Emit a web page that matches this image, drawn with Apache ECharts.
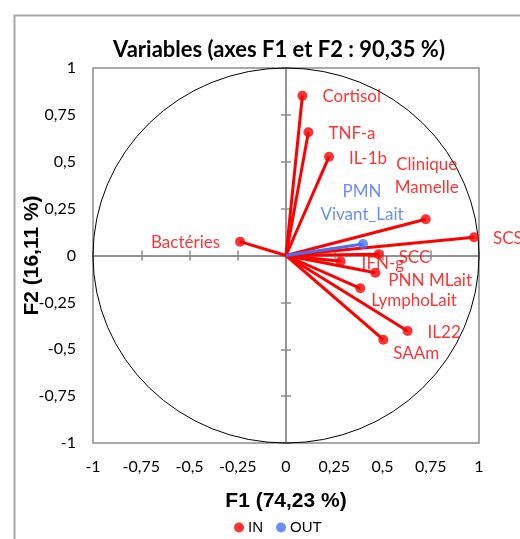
<!DOCTYPE html>
<html><head><meta charset="utf-8">
<script src="https://cdn.jsdelivr.net/npm/echarts@6/dist/echarts.min.js"></script>
<style>html,body{margin:0;padding:0;background:#fff}#c{width:520px;height:539px}</style>
</head><body><div id="c"></div>
<script>
// ---- data ----
const namesIn = ['Cortisol', 'TNF-a', 'IL-1b', 'Clinique\nMamelle', 'SCS', 'SCC', 'IFN-g', 'PNN MLait', 'LymphoLait', 'IL22', 'SAAm', 'Bactéries'];
const f1In = [0.085, 0.116, 0.223, 0.724, 0.974, 0.480, 0.283, 0.463, 0.385, 0.630, 0.504, -0.238];
const f2In = [0.852, 0.657, 0.527, 0.193, 0.097, 0.007, -0.031, -0.092, -0.175, -0.403, -0.449, 0.074];
const namesOut = ['PMN\nVivant_Lait'];
const f1Out = [0.399];
const f2Out = [0.061];
const tickValues = [-1, -0.75, -0.5, -0.25, 0, 0.25, 0.5, 0.75, 1];
const circleRadius = [1];
const chartTitle = 'Variables (axes F1 et F2 : 90,35 %)';
const xTitle = 'F1 (74,23 %)';
const yTitle = 'F2 (16,11 %)';
const seriesNames = ['IN', 'OUT'];

// ---- label placement (style, not data) ----
const labelPlace = {
  'Cortisol': { position: 'right', offset: [0, 1] },
  'TNF-a': { position: 'right', offset: [0, 1] },
  'IL-1b': { position: 'right', offset: [0, 2] },
  'Clinique\nMamelle': { position: 'top', offset: [1, 0] },
  'SCS': { position: 'right', offset: [-1, 1] },
  'SCC': { position: 'right', offset: [0, 3] },
  'IFN-g': { position: 'right', offset: [1, 2] },
  'PNN MLait': { position: 'right', offset: [-7, 8] },
  'LymphoLait': { position: 'right', offset: [-9, 12] },
  'IL22': { position: 'right', offset: [0, 1] },
  'SAAm': { position: 'right', offset: [-10, 14] },
  'Bactéries': { position: 'left', offset: [0, 1] },
  'PMN\nVivant_Lait': { position: 'top', offset: [-1, 0] }
};

const RED = '#FF0000', BLUE = '#4472F5', GRAY = '#8C8C8C';
const FONT = 'Lato';
const tickMin = tickValues[0], tickMax = tickValues[tickValues.length - 1];
const tickStep = tickValues[1] - tickValues[0];
const fmt = v => String(v).replace('.', ',');

function pts(names, xs, ys) {
  return names.map((n, i) => {
    const lp = labelPlace[n] || { position: 'right', offset: [0, 0] };
    const lab = { position: lp.position, offset: lp.offset };
    if (lp.position === 'top') lab.align = 'center';
    return { name: n, value: [xs[i], ys[i]], label: lab };
  });
}
function vecSeries(name, xs, ys, color) {
  return {
    type: 'custom', name: name, xAxisIndex: 0, yAxisIndex: 0, silent: true, z: 2,
    data: xs.map((x, i) => [x, ys[i]]),
    renderItem: function (params, api) {
      const o = api.coord([0, 0]);
      const p = api.coord([api.value(0), api.value(1)]);
      return { type: 'line', shape: { x1: o[0], y1: o[1], x2: p[0], y2: p[1] },
        style: { stroke: color, lineWidth: 3 } };
    }
  };
}
const baseAxis = { type: 'value', min: tickMin, max: tickMax, interval: tickStep, splitLine: { show: false } };

const chart = echarts.init(document.getElementById('c'));
chart.setOption({
  animation: false,
  backgroundColor: '#fff',
  graphic: [{ type: 'rect', left: 12, top: 13, shape: { width: 520, height: 540 },
    style: { fill: 'none', stroke: '#A6A6A6', lineWidth: 2 }, z: -1 }],
  title: { text: chartTitle, left: 274, top: 34, textAlign: 'center',
    textStyle: { fontFamily: FONT, fontWeight: 'bold', fontSize: 22, color: '#000' } },
  legend: { data: seriesNames, left: 229, top: 515, icon: 'circle', itemWidth: 10, itemHeight: 10, itemGap: 13,
    textStyle: { fontFamily: 'Liberation Sans', fontSize: 15, color: '#000', padding: [0, 0, 0, -1] } },
  grid: { left: 93, right: 41, top: 68, bottom: 96, show: true, borderColor: GRAY, borderWidth: 1.5 },
  xAxis: [
    Object.assign({}, baseAxis, { position: 'bottom', axisLine: { onZero: true, onZeroAxisIndex: 0, lineStyle: { color: GRAY, width: 1.5 } },
      axisTick: { show: true, inside: false, length: 5, lineStyle: { color: GRAY, width: 1.5 } }, axisLabel: { show: false } }),
    Object.assign({}, baseAxis, { position: 'top', axisLine: { onZero: true, onZeroAxisIndex: 0, lineStyle: { color: GRAY, width: 1.5 } },
      axisTick: { show: true, inside: false, length: 5, lineStyle: { color: GRAY, width: 1.5 } }, axisLabel: { show: false } }),
    Object.assign({}, baseAxis, { position: 'bottom', axisLine: { show: false, onZero: false }, axisTick: { show: false },
      axisLabel: { show: true, margin: 16, formatter: fmt, fontFamily: FONT, fontSize: 16, color: '#000' },
      name: xTitle, nameLocation: 'middle', nameGap: 48, nameMoveOverlap: false,
      nameTextStyle: { fontFamily: 'Liberation Sans', fontWeight: 'bold', fontSize: 21, color: '#000' } })
  ],
  yAxis: [
    Object.assign({}, baseAxis, { position: 'left', axisLine: { onZero: true, onZeroAxisIndex: 0, lineStyle: { color: GRAY, width: 1.5 } },
      axisTick: { show: true, inside: false, length: 5, lineStyle: { color: GRAY, width: 1.5 } }, axisLabel: { show: false } }),
    Object.assign({}, baseAxis, { position: 'right', axisLine: { onZero: true, onZeroAxisIndex: 0, lineStyle: { color: GRAY, width: 1.5 } },
      axisTick: { show: true, inside: false, length: 5, lineStyle: { color: GRAY, width: 1.5 } }, axisLabel: { show: false } }),
    Object.assign({}, baseAxis, { position: 'left', axisLine: { show: false, onZero: false }, axisTick: { show: false },
      axisLabel: { show: true, margin: 17, formatter: fmt, fontFamily: FONT, fontSize: 16, color: '#000' },
      name: yTitle, nameLocation: 'middle', nameGap: 50, nameRotate: 90, nameMoveOverlap: false,
      nameTextStyle: { fontFamily: 'Liberation Sans', fontWeight: 'bold', fontSize: 21, color: '#000' } })
  ],
  series: [
    {
      type: 'custom', name: 'circle', xAxisIndex: 0, yAxisIndex: 0, silent: true, z: 1,
      data: circleRadius.map(r => [r, r]),
      renderItem: function (params, api) {
        const c = api.coord([0, 0]);
        const rx = api.size([api.value(0), 0])[0];
        const ry = api.size([0, api.value(1)])[1];
        const d = 'M ' + (c[0] - rx) + ' ' + c[1] + ' A ' + rx + ' ' + ry + ' 0 1 0 ' + (c[0] + rx) + ' ' + c[1] +
          ' A ' + rx + ' ' + ry + ' 0 1 0 ' + (c[0] - rx) + ' ' + c[1] + ' Z';
        return { type: 'path', shape: { pathData: d }, style: { fill: 'none', stroke: '#000', lineWidth: 1 } };
      }
    },
    vecSeries('IN-vec', f1In, f2In, RED),
    vecSeries('OUT-vec', f1Out, f2Out, BLUE),
    {
      type: 'scatter', name: 'IN', xAxisIndex: 0, yAxisIndex: 0, symbol: 'circle', symbolSize: 10, z: 5,
      itemStyle: { color: RED },
      label: { show: true, formatter: '{b}', distance: 15, color: RED, fontFamily: FONT, fontSize: 17, lineHeight: 23 },
      data: pts(namesIn, f1In, f2In)
    },
    {
      type: 'scatter', name: 'OUT', xAxisIndex: 0, yAxisIndex: 0, symbol: 'circle', symbolSize: 10, z: 5,
      itemStyle: { color: BLUE },
      label: { show: true, formatter: '{b}', distance: 13, color: BLUE, fontFamily: FONT, fontSize: 17, lineHeight: 23 },
      data: pts(namesOut, f1Out, f2Out)
    }
  ]
});
</script></body></html>
